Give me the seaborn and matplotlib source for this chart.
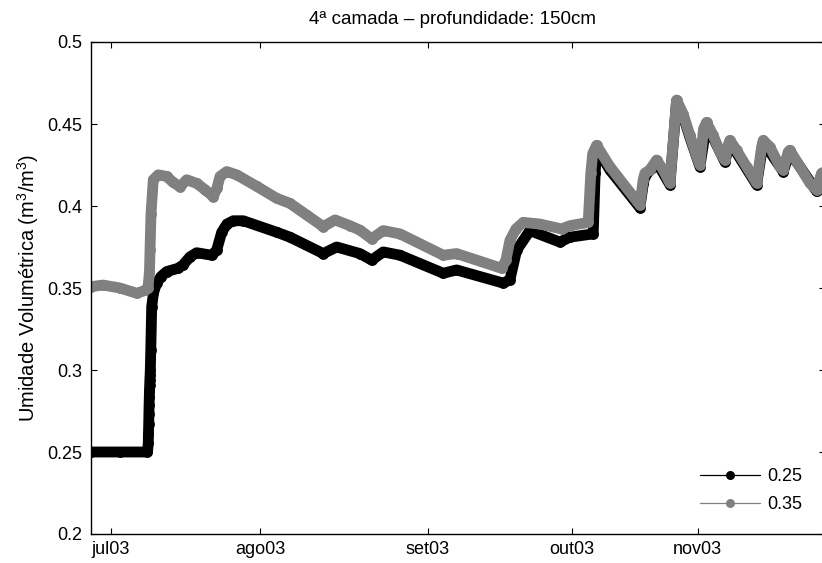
import matplotlib
matplotlib.use("Agg")
import matplotlib.pyplot as plt
from matplotlib.lines import Line2D
import seaborn as sns
import pandas as pd

# ---- data (x in plot units, left edge = 0) ----
x_black = [0.0, 6.0, 11.7, 11.86, 11.90, 11.95, 11.99, 12.03, 12.07, 12.11, 12.15, 12.19,
           12.24, 12.28, 12.38, 12.57, 12.94, 13.60, 14.49, 15.67, 18.01, 19.05, 20.50,
           21.88, 24.99, 26.02, 27.06, 28.16, 29.46, 31.53, 38.45, 41.20, 48.10, 50.87,
           55.69, 58.12, 60.52, 63.98, 72.94, 75.71, 85.36, 86.75, 88.14, 90.89, 97.10,
           99.17, 104.0, 104.4, 104.7, 105.4, 107.45, 113.66, 114.4, 114.70, 116.09,
           117.12, 119.88, 121.26, 122.63, 124.0, 126.09, 127.47, 131.26, 132.30, 137.83,
           139.21, 143.35, 144.72, 150.25, 151.28, 152.0]
y_black = [0.250, 0.250, 0.250, 0.2553, 0.261, 0.267, 0.273, 0.2787, 0.2834, 0.2874, 0.2909, 0.2939,
           0.2970, 0.300, 0.312, 0.3386, 0.347, 0.353, 0.357, 0.360, 0.362, 0.364, 0.369,
           0.3715, 0.370, 0.373, 0.384, 0.389, 0.391, 0.391, 0.384, 0.381, 0.371, 0.375,
           0.371, 0.367, 0.372, 0.370, 0.359, 0.361, 0.353, 0.355, 0.373, 0.385, 0.378,
           0.381, 0.383, 0.420, 0.434, 0.432, 0.422, 0.399, 0.414, 0.418, 0.423,
           0.427, 0.413, 0.4638, 0.455, 0.442, 0.424, 0.450, 0.427, 0.439, 0.413,
           0.439, 0.421, 0.433, 0.409, 0.419, 0.420]

x_gray = [0.0, 2.48, 6.0, 9.46, 11.18, 11.80, 12.11, 12.22, 12.42, 12.90, 13.93, 15.67,
          16.98, 18.43, 19.81, 21.88, 23.60, 25.32, 26.09, 26.71, 28.10, 30.17, 34.31,
          38.45, 41.20, 44.66, 48.10, 50.52, 53.62, 55.69, 58.12, 60.52, 63.98, 72.94,
          75.71, 85.03, 85.92, 86.75, 87.99, 89.50, 92.96, 97.45, 99.17, 102.96, 103.5,
          103.9, 104.7, 107.45, 113.66, 114.36, 114.70, 115.74, 117.12, 118.5, 119.88,
          121.26, 122.63, 124.02, 125.4, 126.09, 126.84, 127.47, 128.85, 130.23, 131.26,
          131.95, 132.30, 133.68, 135.75, 137.83, 138.87, 139.21, 140.59, 142.66, 143.35,
          144.38, 144.72, 146.8, 148.87, 150.25, 151.28, 152.0]
y_gray = [0.3508, 0.3518, 0.350, 0.3468, 0.3485, 0.350, 0.360, 0.373, 0.395, 0.416, 0.419, 0.418,
          0.4145, 0.4117, 0.416, 0.4138, 0.410, 0.4057, 0.411, 0.418, 0.421, 0.419, 0.412,
          0.4047, 0.4016, 0.3945, 0.3874, 0.3915, 0.388, 0.3853, 0.380, 0.385, 0.383, 0.370,
          0.371, 0.362, 0.367, 0.379, 0.386, 0.390, 0.389, 0.386, 0.388, 0.390, 0.420,
          0.432, 0.437, 0.424, 0.4006, 0.416, 0.420, 0.422, 0.428, 0.422, 0.414,
          0.4646, 0.456, 0.443, 0.4305, 0.425, 0.447, 0.451, 0.443, 0.433, 0.428,
          0.437, 0.440, 0.434, 0.424, 0.414, 0.436, 0.440, 0.436, 0.424, 0.422,
          0.433, 0.434, 0.424, 0.414, 0.4098, 0.420, 0.421]

tick_pos = [4.1, 35.0, 69.7, 99.6, 125.6]
tick_labels = ["jul03", "ago03", "set03", "out03", "nov03"]
series_names = ["0.25", "0.35"]
colors = ["#000000", "#808080"]

title = "4ª camada – profundidade: 150cm"
ylabel = "Umidade Volumétrica (m$^3$/m$^3$)"

# ---- style ----
sns.set_theme(style="white")
plt.rcParams["font.family"] = ["Liberation Sans", "DejaVu Sans"]
plt.rcParams["mathtext.default"] = "regular"
for k in ["text.color", "axes.labelcolor", "xtick.color", "ytick.color"]:
    plt.rcParams[k] = "black"
FS = 13

fig = plt.figure(figsize=(8.22, 5.63), dpi=100)
W, H = 822, 563
ax = fig.add_axes([91 / W, 29 / H, 734 / W, 492 / H])

df_b = pd.DataFrame({"x": x_black, "y": y_black})
df_g = pd.DataFrame({"x": x_gray, "y": y_gray})

common = dict(sort=False, estimator=None, legend=False, linewidth=7.8,
              marker="o", markersize=7.8, markeredgewidth=0,
              solid_joinstyle="round", solid_capstyle="round", ax=ax)
sns.lineplot(data=df_b, x="x", y="y", color=colors[0], **common)
sns.lineplot(data=df_g, x="x", y="y", color=colors[1], **common)

ax.set_xlim(0, 152)
ax.set_ylim(0.2, 0.5)
ax.set_xticks(tick_pos)
ax.set_xticklabels(tick_labels)
ax.set_yticks([0.2, 0.25, 0.3, 0.35, 0.4, 0.45, 0.5])
ax.set_yticklabels(["0.2", "0.25", "0.3", "0.35", "0.4", "0.45", "0.5"])
ax.set_xlabel("")
ax.set_ylabel(ylabel, fontsize=14.5, labelpad=5)
ax.set_title(title, fontsize=13.6, pad=13, x=0.492)

for s in ax.spines.values():
    s.set_visible(True)
    s.set_color("black")
    s.set_linewidth(1.0)
ax.tick_params(axis="both", which="major", direction="in", length=4.3, width=0.8,
               colors="black", labelsize=FS, top=True, right=True,
               bottom=True, left=True)
ax.tick_params(axis="x", pad=5)
ax.tick_params(axis="y", pad=6)

handles = [Line2D([], [], color=colors[i], lw=0.9, marker="o", markersize=6.5,
                  markeredgewidth=0) for i in range(2)]
leg = ax.legend(handles, series_names, loc="upper left",
                bbox_to_anchor=(700 / W, 1 - 468 / H), bbox_transform=fig.transFigure,
                frameon=False, fontsize=FS, handlelength=3.3, handletextpad=0.45,
                borderpad=0, borderaxespad=0, labelspacing=0.6)

fig.savefig("out.png", dpi=100, facecolor="white")
